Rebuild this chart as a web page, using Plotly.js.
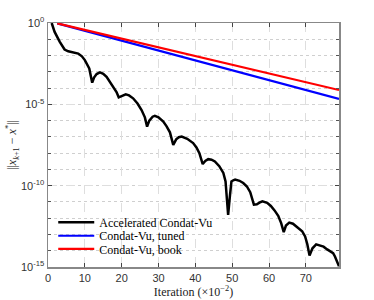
<!DOCTYPE html>
<html><head><meta charset="utf-8">
<script src="https://cdn.plot.ly/plotly-3.0.1.min.js"></script>
<style>html,body{margin:0;padding:0;background:#fff}#c{width:374px;height:300px}</style>
</head><body><div id="c"></div>
<script>
// Iteration (x10^-2) and log10 of error for each method
var accX = [1.0,1.8,3.2,4.5,5.5,6.4,7.3,8.2,9.2,10.0,11.2,12.0,12.5,13.2,14.1,15.0,15.9,17.7,18.6,19.2,20.4,21.1,22.0,23.1,24.3,25.4,26.3,26.9,27.5,28.4,29.0,30.0,31.3,32.2,33.1,34.0,34.8,35.5,36.3,37.8,39.4,40.3,41.1,42.0,42.7,43.5,44.4,45.3,46.5,47.6,48.2,48.9,49.4,49.8,50.3,50.8,52.0,53.0,54.0,54.9,55.9,56.7,57.4,58.2,59.5,60.5,61.5,62.5,63.3,64.0,64.6,65.5,66.5,68.0,69.0,69.8,70.4,71.0,71.8,72.8,73.8,74.8,75.8,76.6,77.4,77.9,78.5,79.0];
var accLog = [0,-0.55,-1.16,-1.63,-1.74,-1.78,-1.80,-1.88,-2.05,-2.28,-2.79,-3.67,-3.35,-3.14,-3.04,-3.12,-3.31,-3.92,-4.25,-4.57,-4.43,-4.39,-4.45,-4.63,-4.95,-5.35,-5.8,-6.37,-6.0,-5.76,-5.71,-5.8,-6.06,-6.35,-6.72,-7.49,-7.15,-7.02,-6.98,-7.12,-7.38,-7.65,-8.0,-8.67,-8.48,-8.37,-8.40,-8.51,-8.8,-9.22,-9.74,-11.8,-10.6,-9.74,-9.67,-9.63,-9.70,-9.84,-10.05,-10.40,-11.16,-11.14,-11.04,-10.96,-11.05,-11.25,-11.52,-11.85,-12.3,-12.86,-12.45,-12.27,-12.34,-12.59,-12.8,-13.12,-13.6,-14.29,-13.85,-13.61,-13.68,-13.75,-13.92,-14.02,-14.15,-14.35,-14.65,-14.95];
var tunedX = [2.5, 79.0];
var tunedLog = [-0.02, -4.67];
var bookX = [2.5, 79.0];
var bookLog = [-0.02, -4.12];
var names = ["Accelerated Condat-Vu", "Condat-Vu, tuned", "Condat-Vu, book"];
var yTickVals = [1e0, 1e-5, 1e-10, 1e-15];
var yTickText = ["10<sup>0</sup>", "10<sup>-5</sup>", "10<sup>-10</sup>", "10<sup>-15</sup>"];
var xTickVals = [0,10,20,30,40,50,60,70];

function pow10(a){return a.map(function(v){return Math.pow(10,v);});}
var legFont = {family:"Liberation Serif, serif", size:12, color:"#000"};
var traces = [
 {x:accX, y:pow10(accLog), mode:"lines", name:names[0], line:{color:"#000000", width:2.5}, legend:"legend"},
 {x:tunedX, y:pow10(tunedLog), mode:"lines", name:names[1], line:{color:"#0000ff", width:2.2}, legend:"legend2"},
 {x:bookX, y:pow10(bookLog), mode:"lines", name:names[2], line:{color:"#ff0000", width:2.2}, legend:"legend3"}
];
function leg(y){return {x:0.018, y:y, xanchor:"left", yanchor:"middle", bgcolor:"rgba(255,255,255,0)", borderwidth:0, font:legFont, itemwidth:36, tracegroupgap:0};}
var layout = {
 width:374, height:300,
 margin:{l:48, r:35, t:23, b:33},
 paper_bgcolor:"#fff", plot_bgcolor:"#fff",
 showlegend:true,
 legend:leg(0.183), legend2:leg(0.128), legend3:leg(0.074),
 xaxis:{range:[0,79], tickmode:"array", tickvals:xTickVals, ticks:"inside", ticklen:4, tickcolor:"#444",
   showline:true, linecolor:"#888", linewidth:1.5, mirror:"ticks", zeroline:false,
   showgrid:true, gridcolor:"#dedede", gridwidth:1, griddash:"dash",
   tickfont:{family:"Liberation Sans, Arial", size:11, color:"#333"},
   title:{text:"Iteration (×10<sup>−2</sup>)", font:{family:"Liberation Serif, serif", size:12, color:"#222"}, standoff:4}},
 yaxis:{type:"log", range:[-15,0], tickmode:"array", tickvals:yTickVals, ticktext:yTickText,
   ticks:"inside", ticklen:4, tickcolor:"#444",
   showline:true, linecolor:"#888", linewidth:1.5, mirror:"ticks", zeroline:false,
   showgrid:true, gridcolor:"#dedede", gridwidth:1, griddash:"dash",
   minor:{tickmode:"linear", dtick:1, ticks:"inside", ticklen:3, tickcolor:"#555", showgrid:true, gridcolor:"#cfcfcf", griddash:"dot", gridwidth:1},
   tickfont:{family:"Liberation Sans, Arial", size:11, color:"#333"},
   title:{text:"||<i>x</i><sub><i>k</i>+1</sub> − <i>x</i><sup>*</sup>||", font:{family:"Liberation Serif, serif", size:12, color:"#222"}, standoff:1}}
};
Plotly.newPlot("c", traces, layout, {staticPlot:true, displayModeBar:false});
</script></body></html>
